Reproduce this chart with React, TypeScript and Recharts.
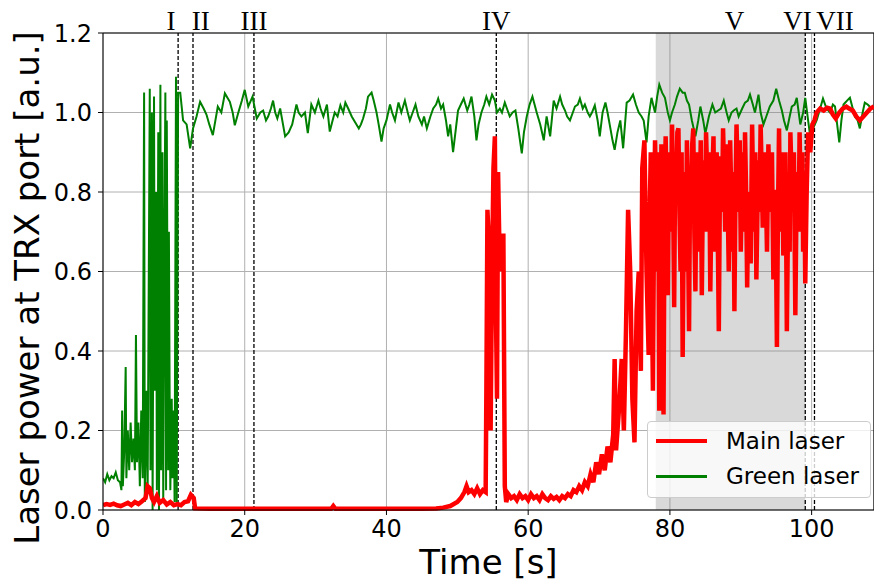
import React from "react"
import { CartesianGrid, Line, LineChart, ReferenceArea, ReferenceLine, XAxis, YAxis } from "recharts"

// [time s, power a.u.]
const greenLaser: [number, number][] = [
  [0, 0.08], [0.3, 0.07], [0.6, 0.09], [0.9, 0.075], [1.2, 0.085], [1.5, 0.08], [1.8, 0.095], [2.1, 0.075],
  [2.4, 0.07], [2.6, 0.05], [2.7, 0.25], [2.8, 0.06], [3.0, 0.15], [3.2, 0.36], [3.3, 0.08], [3.5, 0.2],
  [3.7, 0.1], [3.9, 0.22], [4.1, 0.12], [4.3, 0.18], [4.5, 0.1], [4.65, 0.44], [4.8, 0.12], [5.0, 0.22],
  [5.2, 0.06], [5.4, 0.25], [5.6, 0.08], [5.8, 1.05], [5.9, 0.02], [6.1, 0.3], [6.3, 0.05], [6.6, 1.06],
  [6.7, 0.1], [6.9, 1.0], [7.0, 0.0], [7.2, 1.04], [7.3, 0.3], [7.5, 0.8], [7.6, 0.05], [7.8, 0.95],
  [7.9, 0.0], [8.1, 1.07], [8.2, 0.1], [8.4, 0.9], [8.5, 0.02], [8.7, 0.75], [8.8, 1.05], [8.9, 0.05],
  [9.0, 0.98], [9.1, 0.55], [9.2, 0.1], [9.3, 0.7], [9.4, 0.3], [9.5, 0.05], [9.7, 0.28], [9.8, 0.08],
  [10.0, 0.25], [10.1, 0.02], [10.3, 1.09], [10.4, 0.02], [10.6, 1.05], [10.9, 1.05], [11.3, 0.98], [11.8, 0.97],
  [12.3, 0.91], [12.7, 0.96], [13.2, 0.99], [13.7, 1.027], [14.2, 1.01], [14.6, 0.995], [15.0, 0.97], [15.5, 0.943],
  [16.2, 1.015], [16.7, 1.0], [17.2, 1.048], [17.9, 1.027], [18.3, 1.0], [18.6, 0.968], [19.1, 1.0], [19.6, 1.03],
  [20.0, 1.057], [20.5, 1.015], [21.1, 1.04], [21.7, 0.985], [22.2, 1.0], [22.6, 1.005], [23.0, 0.98], [23.3, 0.99],
  [23.7, 1.01], [24.0, 1.03], [24.3, 1.0], [24.6, 0.985], [25.0, 1.01], [25.4, 0.97], [25.7, 0.94], [26.2, 0.95],
  [26.7, 0.97], [27.3, 1.02], [27.6, 1.0], [28.0, 0.99], [28.5, 1.0], [28.9, 0.948], [29.4, 1.02], [29.9, 1.0],
  [30.4, 1.03], [30.7, 1.01], [31.1, 0.99], [31.6, 1.02], [32.0, 0.952], [32.4, 0.98], [32.7, 1.0], [33.1, 0.99],
  [33.5, 1.018], [33.9, 1.0], [34.2, 1.025], [34.6, 1.01], [35.1, 0.99], [35.6, 0.975], [36.1, 0.96], [36.4, 0.97],
  [36.7, 0.985], [37.1, 1.01], [37.4, 1.04], [37.9, 1.05], [38.2, 1.03], [38.6, 1.0], [38.9, 0.97], [39.3, 0.927],
  [39.6, 0.96], [40.0, 0.98], [40.5, 1.02], [40.8, 1.0], [41.2, 0.98], [41.7, 1.025], [42.1, 1.0], [42.6, 1.03],
  [43.0, 1.0], [43.3, 0.98], [43.7, 1.0], [44.1, 1.02], [44.5, 0.99], [45.0, 0.97], [45.3, 0.99], [45.7, 0.96],
  [46.2, 0.99], [46.6, 1.01], [47.0, 1.02], [47.3, 1.035], [47.7, 1.01], [48.0, 1.02], [48.4, 0.98], [48.7, 0.94],
  [49.0, 0.97], [49.4, 0.9], [49.8, 0.96], [50.1, 1.005], [50.5, 1.02], [50.9, 1.035], [51.4, 1.005], [51.7, 1.02],
  [52.0, 1.04], [52.4, 0.99], [52.7, 0.93], [53.0, 0.97], [53.4, 1.0], [53.8, 1.02], [54.1, 1.04], [54.5, 1.02],
  [54.9, 1.045], [55.3, 1.03], [55.6, 1.0], [56.0, 1.01], [56.3, 1.0], [56.7, 1.025], [57.0, 1.01], [57.4, 0.99],
  [57.8, 1.0], [58.2, 1.005], [58.6, 0.96], [59.1, 0.897], [59.4, 0.95], [59.8, 0.99], [60.2, 1.02], [60.6, 1.04],
  [60.9, 1.02], [61.2, 1.0], [61.7, 0.97], [62.2, 0.93], [62.6, 0.99], [63.1, 0.94], [63.6, 1.03], [64.0, 1.01],
  [64.5, 1.04], [64.8, 1.02], [65.2, 1.005], [65.5, 0.99], [65.9, 0.98], [66.3, 1.0], [66.6, 1.015], [67.0, 1.02],
  [67.3, 1.035], [67.7, 1.01], [68.0, 1.02], [68.4, 1.0], [68.7, 0.99], [69.0, 1.0], [69.4, 1.018], [69.8, 0.98],
  [70.1, 0.94], [70.5, 1.0], [70.9, 1.025], [71.2, 1.0], [71.6, 0.96], [71.9, 0.93], [72.2, 0.906], [72.6, 0.95],
  [73.0, 0.98], [73.4, 0.91], [73.9, 1.025], [74.3, 1.03], [74.8, 1.045], [75.2, 1.02], [75.6, 1.0], [76.0, 0.99],
  [76.3, 0.98], [76.7, 0.925], [77.0, 0.99], [77.4, 1.037], [77.9, 1.0], [78.2, 1.04], [78.5, 1.07], [78.9, 1.05],
  [79.3, 1.037], [79.7, 1.0], [80.0, 0.98], [80.3, 1.0], [80.7, 1.02], [81.0, 1.04], [81.4, 1.06], [81.8, 1.05],
  [82.1, 1.05], [82.4, 1.03], [82.7, 1.02], [83.1, 0.98], [83.6, 0.94], [84.0, 0.98], [84.3, 1.015], [84.7, 0.98],
  [85.0, 0.947], [85.5, 0.99], [86.0, 1.02], [86.4, 1.0], [86.8, 1.005], [87.2, 1.01], [87.6, 1.03], [88.0, 1.0],
  [88.3, 0.98], [88.7, 1.0], [89.0, 1.005], [89.4, 1.01], [89.7, 0.99], [90.2, 1.01], [90.6, 1.025], [91.0, 1.03],
  [91.3, 1.045], [91.7, 1.02], [92.0, 1.0], [92.5, 1.045], [92.8, 1.0], [93.2, 0.97], [93.6, 0.99], [94.1, 1.015],
  [94.6, 1.03], [95.0, 1.06], [95.4, 1.03], [95.8, 1.005], [96.1, 0.98], [96.5, 0.955], [96.9, 0.99], [97.2, 1.015],
  [97.6, 1.02], [97.9, 1.037], [98.4, 0.97], [98.8, 1.0], [99.1, 1.037], [99.5, 0.98], [99.8, 0.94], [100.2, 0.96],
  [100.7, 0.98], [101.2, 1.01], [101.6, 1.035], [102.1, 1.01], [102.6, 1.0], [103.0, 1.02], [103.3, 1.015], [103.6, 0.97],
  [103.9, 0.925], [104.2, 0.98], [104.5, 1.02], [105.0, 1.03], [105.4, 1.037], [105.8, 1.01], [106.1, 0.99], [106.5, 0.98],
  [106.8, 0.96], [107.2, 1.0], [107.5, 1.025], [107.9, 1.02], [108.2, 1.015], [108.8, 1.01],
]

const mainLaser: [number, number][] = [
  [0, 0.012], [0.5, 0.015], [1, 0.013], [1.5, 0.016], [2, 0.012], [2.5, 0.01], [3, 0.014], [3.5, 0.018],
  [4, 0.012], [4.5, 0.02], [5, 0.015], [5.5, 0.022], [6, 0.03], [6.3, 0.06], [6.6, 0.055], [6.9, 0.03],
  [7.2, 0.02], [7.6, 0.035], [8, 0.018], [8.5, 0.025], [9, 0.014], [9.5, 0.02], [10, 0.012], [10.5, 0.015],
  [11, 0.012], [11.5, 0.02], [12, 0.022], [12.4, 0.038], [12.8, 0.03], [13, 0.004], [15, 0.003], [20, 0.003],
  [25, 0.003], [30, 0.003], [32.2, 0.003], [32.5, 0.01], [32.8, 0.003], [35, 0.003], [40, 0.003], [45, 0.003],
  [47, 0.004], [48, 0.006], [49, 0.01], [49.5, 0.015], [50, 0.02], [50.5, 0.03], [51, 0.045], [51.3, 0.06],
  [51.6, 0.045], [52, 0.05], [52.4, 0.04], [52.8, 0.055], [53.2, 0.04], [53.6, 0.05], [54, 0.045], [54.1, 0.3],
  [54.25, 0.755], [54.5, 0.65], [54.7, 0.2], [54.9, 0.6], [55.1, 0.86], [55.3, 0.94], [55.45, 0.5], [55.6, 0.28],
  [55.75, 0.85], [56.0, 0.6], [56.2, 0.69], [56.5, 0.69], [56.7, 0.06], [56.9, 0.02], [57.2, 0.04], [57.6, 0.03],
  [58, 0.035], [58.4, 0.025], [58.8, 0.04], [59.2, 0.03], [59.6, 0.035], [60, 0.025], [60.4, 0.04], [60.8, 0.03],
  [61.2, 0.035], [61.6, 0.025], [62, 0.04], [62.4, 0.03], [62.8, 0.025], [63.2, 0.035], [63.6, 0.028], [64, 0.033],
  [64.4, 0.025], [64.8, 0.035], [65.2, 0.03], [65.6, 0.04], [66, 0.035], [66.4, 0.05], [66.8, 0.045], [67.2, 0.06],
  [67.6, 0.05], [68, 0.07], [68.4, 0.06], [68.8, 0.09], [69.2, 0.07], [69.6, 0.12], [70, 0.09], [70.4, 0.14],
  [70.8, 0.1], [71.2, 0.16], [71.6, 0.12], [72, 0.19], [72.2, 0.38], [72.4, 0.15], [72.8, 0.25], [73.2, 0.38],
  [73.5, 0.2], [73.8, 0.45], [74.1, 0.755], [74.4, 0.6], [74.7, 0.28], [75, 0.17], [75.3, 0.5], [75.6, 0.6],
  [75.9, 0.35], [76.1, 0.86], [76.4, 0.93], [76.7, 0.6], [77.0, 0.39], [77.15, 0.75], [77.3, 0.9], [77.45, 0.55],
  [77.6, 0.3], [77.75, 0.7], [77.9, 0.93], [78.05, 0.8], [78.2, 0.6], [78.35, 0.9], [78.5, 0.25], [78.65, 0.6],
  [78.8, 0.92], [78.95, 0.7], [79.1, 0.24], [79.25, 0.8], [79.4, 0.94], [79.55, 0.75], [79.7, 0.54], [79.85, 0.85],
  [80.0, 0.9], [80.15, 0.7], [80.3, 0.97], [80.45, 0.8], [80.6, 0.51], [80.75, 0.9], [80.9, 0.8], [81.05, 0.95],
  [81.2, 0.96], [81.35, 0.75], [81.5, 0.6], [81.65, 0.9], [81.8, 0.385], [81.95, 0.7], [82.1, 0.85], [82.25, 0.6],
  [82.4, 0.93], [82.55, 0.7], [82.7, 0.45], [82.85, 0.85], [83.0, 0.8], [83.15, 0.92], [83.3, 0.96], [83.45, 0.7],
  [83.6, 0.55], [83.75, 0.88], [83.9, 0.9], [84.05, 0.65], [84.2, 0.75], [84.35, 0.93], [84.5, 0.54], [84.65, 0.8],
  [84.8, 0.88], [84.95, 0.7], [85.1, 0.95], [85.25, 0.85], [85.4, 0.7], [85.55, 0.9], [85.7, 0.55], [85.85, 0.75],
  [86.0, 0.85], [86.15, 0.94], [86.3, 0.65], [86.45, 0.8], [86.6, 0.9], [86.75, 0.7], [86.9, 0.45], [87.05, 0.8],
  [87.2, 0.89], [87.35, 0.75], [87.5, 0.96], [87.65, 0.85], [87.8, 0.7], [87.95, 0.92], [88.1, 0.85], [88.3, 0.6],
  [88.5, 0.93], [88.65, 0.8], [88.8, 0.65], [88.95, 0.85], [89.1, 0.5], [89.25, 0.8], [89.4, 0.97], [89.55, 0.85],
  [89.7, 0.75], [89.85, 0.93], [90.0, 0.65], [90.15, 0.8], [90.3, 0.9], [90.45, 0.7], [90.6, 0.95], [90.75, 0.8],
  [90.9, 0.56], [91.05, 0.75], [91.2, 0.8], [91.4, 0.62], [91.6, 0.97], [91.75, 0.8], [91.9, 0.7], [92.05, 0.9],
  [92.2, 0.58], [92.35, 0.75], [92.5, 0.88], [92.65, 0.75], [92.8, 0.97], [92.95, 0.85], [93.1, 0.71], [93.3, 0.9],
  [93.5, 0.85], [93.7, 0.65], [93.9, 0.92], [94.05, 0.8], [94.2, 0.75], [94.4, 0.9], [94.6, 0.58], [94.75, 0.8],
  [94.9, 0.8], [95.0, 0.6], [95.1, 0.41], [95.25, 0.75], [95.4, 0.96], [95.55, 0.7], [95.7, 0.8], [95.85, 0.9],
  [96.0, 0.64], [96.15, 0.85], [96.3, 0.9], [96.4, 0.7], [96.5, 0.45], [96.65, 0.7], [96.8, 0.85], [96.9, 0.65],
  [97.0, 0.95], [97.15, 0.85], [97.3, 0.75], [97.5, 0.9], [97.7, 0.49], [97.85, 0.75], [98.0, 0.85], [98.15, 0.7],
  [98.3, 0.95], [98.45, 0.8], [98.6, 0.75], [98.7, 0.9], [98.8, 0.65], [98.95, 0.85], [99.1, 0.57], [99.3, 0.8],
  [99.5, 0.95], [99.8, 0.9], [100.1, 0.97], [100.4, 0.98], [100.7, 1.0], [101.2, 1.01], [101.7, 1.005], [102.2, 1.012],
  [102.6, 1.01], [103, 0.995], [103.4, 0.985], [103.9, 1.0], [104.4, 1.01], [104.9, 1.015], [105.3, 1.01], [105.8, 1.005],
  [106.3, 0.99], [106.8, 0.98], [107.3, 0.99], [107.8, 1.0], [108.3, 1.01], [108.8, 1.015],
]

const phaseLines = [10.6, 12.7, 21.3, 55.5, 99.1, 100.4]
const phaseLabels = ["I", "II", "III", "IV", "V", "VI", "VII"]
const phaseLabelTimes = [9.6, 13.8, 21.3, 55.5, 89.1, 98.0, 103.3]
const shadedSpan = [78.0, 99.1]
const xTicks = [0, 20, 40, 60, 80, 100]
const yTicks = [0, 0.2, 0.4, 0.6, 0.8, 1.0, 1.2]
const X_MAX = 108.8

const greenData = greenLaser.map(([t, p]) => ({ t, p }))
const mainData = mainLaser.map(([t, p]) => ({ t, p }))

const tickFont = { fontFamily: "DejaVu Sans", fontSize: 24, fill: "#000" }

export default function App() {
  return (
    <div style={{ position: "absolute", left: 0, top: 0, width: 874, height: 582, background: "#fff" }}>
      <LineChart width={874} height={582} margin={{ top: 33, right: 0, bottom: 0, left: 0 }}>
        <CartesianGrid stroke="#b0b0b0" strokeWidth={1} />
        <ReferenceArea x1={shadedSpan[0]} x2={shadedSpan[1]} y1={0} y2={1.2} fill="#808080" fillOpacity={0.3} stroke="none" />
        <XAxis
          type="number"
          dataKey="t"
          domain={[0, X_MAX]}
          ticks={xTicks}
          allowDataOverflow
          height={72}
          tick={tickFont}
          tickSize={5}
          tickMargin={5}
          stroke="#000"
          label={{ value: "Time [s]", position: "insideBottom", offset: 8, style: { fontFamily: "DejaVu Sans", fontSize: 34, fill: "#000" } }}
        />
        <YAxis
          type="number"
          domain={[0, 1.2]}
          ticks={yTicks}
          width={103}
          tick={tickFont}
          tickFormatter={(v: number) => v.toFixed(1)}
          tickSize={5}
          tickMargin={6}
          stroke="#000"
          label={{
            content: () => (
              <text
                transform="translate(39,288) rotate(-90)"
                textAnchor="middle"
                fontFamily="DejaVu Sans"
                fontSize={34}
                fill="#000"
              >
                Laser power at TRX port [a.u.]
              </text>
            ),
          }}
        />
        <ReferenceLine y={1.2} stroke="#000" strokeWidth={1.2} />
        <ReferenceLine x={X_MAX} stroke="#000" strokeWidth={1.2} />
        {phaseLines.map((x) => (
          <ReferenceLine key={"l" + x} x={x} stroke="#000" strokeWidth={1.3} strokeDasharray="4 2" />
        ))}
        {phaseLabels.map((name, i) => (
          <ReferenceLine
            key={name}
            x={phaseLabelTimes[i]}
            stroke="none"
            label={{ value: name, position: "top", offset: 3, style: { fontFamily: "Liberation Serif", fontSize: 27, fill: "#000" } }}
          />
        ))}
        <Line data={greenData} dataKey="p" type="linear" stroke="#008000" strokeWidth={2} dot={false} activeDot={false} isAnimationActive={false} />
        <Line data={mainData} dataKey="p" type="linear" stroke="#ff0000" strokeWidth={4.5} dot={false} activeDot={false} isAnimationActive={false} />
      </LineChart>
      <div
        style={{
          position: "absolute",
          left: 647,
          top: 421,
          width: 222,
          height: 75,
          border: "1px solid #cccccc",
          borderRadius: 4,
          background: "rgba(255,255,255,0.8)",
          fontFamily: "DejaVu Sans",
          fontSize: 23,
        }}
      >
        {[
          { name: "Main laser", color: "#ff0000", w: 4 },
          { name: "Green laser", color: "#008000", w: 3 },
        ].map((item, i) => (
          <div key={item.name} style={{ position: "absolute", left: 0, top: 4 + i * 35, height: 30, display: "flex", alignItems: "center" }}>
            <div style={{ marginLeft: 8, width: 51, height: item.w, background: item.color }} />
            <span style={{ marginLeft: 19, lineHeight: "30px" }}>{item.name}</span>
          </div>
        ))}
      </div>
    </div>
  )
}
